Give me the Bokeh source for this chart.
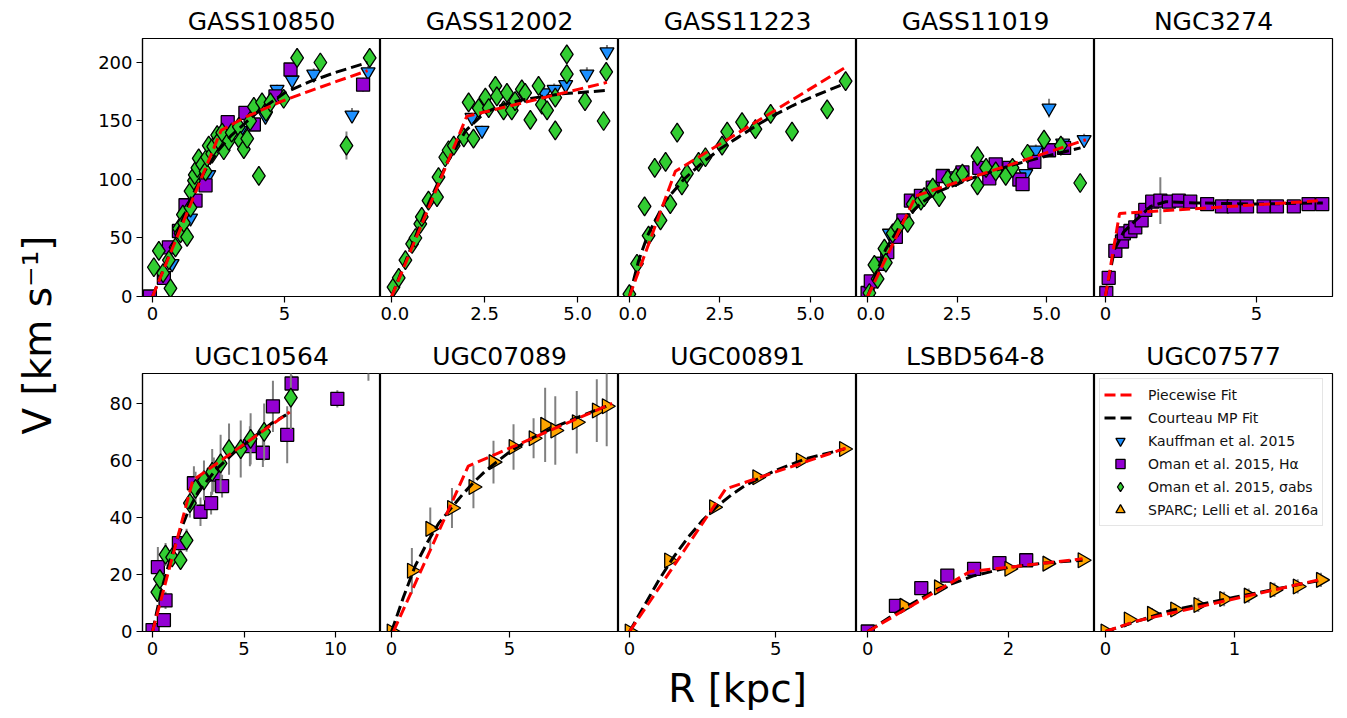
import numpy as np
from bokeh.plotting import figure
from bokeh.layouts import row, column
from bokeh.models import Range1d, FixedTicker, Legend, LegendItem
from bokeh.embed import file_html
from bokeh.resources import INLINE

FONT = "DejaVu Sans"
C_KAUFF = "#1E90FF"
C_HA = "#9400D3"
C_SIG = "#32CD32"
C_SPARC = "#FFA500"

# ---------------- data (R in kpc, V in km/s, e = error) ----------------
# GASS10850
g10850_kauff_r = [0.74, 1.44, 2.13, 3.33, 4.28, 4.72, 5.29, 6.11, 7.56, 8.17]
g10850_kauff_v = [28, 67, 104, 142, 154, 177, 185, 190, 155, 192]
g10850_kauff_e = [3, 3, 4, 4, 5, 4, 5, 5, 6, 5]
g10850_ha_r = [-0.1, 0.43, 0.62, 1.0, 1.25, 1.63, 2.01, 2.85, 3.52, 3.84, 4.66, 5.23, 7.98]
g10850_ha_v = [0, 16, 42, 56, 78, 82, 95, 149, 157, 147, 171, 194, 181]
g10850_ha_e = [2, 3, 3, 3, 4, 4, 4, 4, 4, 4, 5, 5, 6]
g10850_sig_r = [0.05, 0.24, 0.40, 0.62, 0.68, 0.87, 1.0, 1.06, 1.15, 1.19, 1.31, 1.44, 1.44, 1.57, 1.60,
                1.70, 1.75, 1.88, 2.01, 2.07, 2.13, 2.26, 2.30, 2.45, 2.51, 2.64, 2.70, 2.89, 3.00, 3.27,
                3.33, 3.46, 3.59, 3.70, 3.84, 4.03, 4.15, 4.30, 4.47, 4.97, 5.48, 6.36, 7.35, 8.23]
g10850_sig_v = [25, 39, 20, 31, 7, 42, 58, 54, 70, 63, 51, 76, 90, 99, 104,
                110, 118, 113, 107, 119, 129, 122, 128, 138, 133, 140, 125, 133, 140, 145,
                133, 126, 135, 150, 162, 103, 166, 158, 166, 169, 204, 200, 129, 204]
g10850_sig_e = [4, 4, 3, 4, 3, 4, 4, 3, 4, 3, 4, 4, 5, 4, 4,
                4, 5, 4, 4, 4, 5, 4, 4, 5, 4, 5, 4, 4, 5, 5,
                4, 4, 5, 5, 5, 6, 5, 5, 5, 5, 6, 6, 12, 6]
g10850_pw_r = [0.0, 2.6, 3.5, 4.8, 6.0, 7.0, 8.15]
g10850_pw_v = [0, 142, 153, 166, 176, 184, 193]
g10850_cm_r = [0.0, 0.5, 1.0, 1.5, 2.0, 2.5, 3.0, 4.0, 5.0, 6.0, 7.0, 8.15]
g10850_cm_v = [0, 28, 58, 86, 108, 125, 138, 158, 174, 184, 192, 200]

# GASS12002
g12002_kauff_r = [2.16, 2.43, 4.10, 4.37, 4.68, 5.25, 5.79]
g12002_kauff_v = [153, 142, 174, 177, 181, 190, 209]
g12002_kauff_e = [4, 4, 5, 5, 5, 6, 6]
g12002_sig_r = [0.05, 0.19, 0.37, 0.55, 0.64, 0.77, 0.81, 0.99, 1.22, 1.26,
                1.44, 1.53, 1.67, 1.94, 2.07, 2.20, 2.34, 2.52, 2.61, 2.79,
                2.83, 3.01, 3.10, 3.23, 3.32, 3.50, 3.59, 3.73, 3.95, 4.04,
                4.18, 4.40, 4.40, 4.71, 4.71, 5.20, 5.70, 5.77]
g12002_sig_v = [8, 16, 31, 45, 50, 62, 68, 82, 85, 102,
                119, 125, 129, 136, 166, 135, 161, 170, 161, 180,
                171, 159, 174, 159, 167, 177, 174, 151, 180, 164,
                159, 142, 170, 207, 190, 167, 150, 192]
g12002_sig_e = [2, 2, 3, 3, 3, 3, 3, 3, 4, 4,
                4, 4, 4, 4, 5, 4, 5, 5, 5, 5,
                5, 5, 5, 5, 5, 5, 5, 5, 5, 5,
                5, 6, 5, 6, 6, 6, 6, 6]
g12002_pw_r = [0.0, 2.02, 5.79]
g12002_pw_v = [0, 154, 183]
g12002_cm_r = [0.0, 0.5, 1.0, 1.5, 2.0, 2.5, 3.0, 3.5, 4.5, 5.75]
g12002_cm_v = [0, 40, 80, 115, 142, 157, 164, 168, 173, 176]

# GASS11223
g11223_sig_r = [0.0, 0.21, 0.42, 0.53, 0.70, 0.86, 1.00, 1.13, 1.32, 1.45,
                1.59, 1.91, 2.10, 2.56, 2.70, 3.11, 3.48, 3.90, 4.49, 5.46, 5.97]
g11223_sig_v = [2, 28, 77, 52, 110, 65, 115, 79, 140, 95,
                105, 115, 119, 129, 141, 149, 143, 156, 141, 160, 184]
g11223_sig_e = [2, 3, 4, 3, 4, 3, 4, 3, 4, 3,
                3, 3, 3, 3, 3, 3, 3, 4, 4, 4, 4]
g11223_pw_r = [0.0, 1.27, 5.97]
g11223_pw_v = [0, 107, 196]
g11223_cm_r = [0.0, 0.25, 0.5, 1.0, 1.5, 2.0, 2.5, 3.0, 3.5, 4.0, 4.5, 5.0, 5.95]
g11223_cm_v = [0, 30, 52, 82, 100, 114, 126, 136, 146, 155, 163, 170, 182]

# GASS11019
g11019_kauff_r = [0.61, 3.50, 4.42, 4.70, 5.07, 5.45, 6.05]
g11019_kauff_v = [54, 110, 105, 125, 161, 131, 134]
g11019_kauff_e = [3, 4, 4, 5, 8, 5, 5]
g11019_ha_r = [0.0, 0.09, 0.35, 0.55, 0.79, 1.0, 1.21, 1.49, 1.82, 2.10, 2.37,
               2.65, 3.12, 3.40, 3.58, 3.96, 4.24, 4.33, 4.66, 5.07, 5.49]
g11019_ha_v = [3, 13, 28, 38, 51, 65, 82, 86, 93, 103, 101,
               106, 110, 101, 113, 110, 100, 96, 115, 125, 127]
g11019_ha_e = [2, 2, 2, 3, 3, 3, 3, 3, 3, 3, 3,
               3, 3, 3, 3, 3, 3, 3, 4, 4, 4]
g11019_sig_r = [0.05, 0.19, 0.28, 0.47, 0.51, 0.70, 0.84, 1.12, 1.26, 1.49,
                1.58, 1.82, 2.00, 2.24, 2.47, 2.65, 3.07, 3.07, 3.31, 3.58,
                3.86, 4.05, 4.47, 4.93, 5.40, 5.94]
g11019_sig_v = [3, 27, 15, 41, 29, 54, 59, 63, 79, 82,
                85, 93, 85, 100, 102, 105, 120, 95, 110, 107,
                103, 110, 122, 134, 129, 97]
g11019_sig_e = [2, 2, 2, 3, 3, 3, 3, 3, 3, 3,
                3, 3, 3, 3, 3, 3, 4, 4, 3, 3,
                3, 3, 4, 4, 4, 4]
g11019_pw_r = [0.0, 1.35, 6.1]
g11019_pw_v = [0, 86, 134]
g11019_cm_r = [0.0, 0.5, 1.0, 1.5, 2.0, 3.0, 4.0, 5.0, 5.95]
g11019_cm_v = [0, 40, 65, 80, 90, 102, 112, 120, 127]

# NGC3274
n3274_ha_r = [0.03, 0.11, 0.33, 0.55, 0.61, 0.83, 0.99, 1.20, 1.32, 1.55, 1.82, 2.10,
              2.43, 2.81, 3.37, 3.86, 4.25, 4.69, 5.24, 5.68, 6.24, 6.73, 7.18]
n3274_ha_v = [3, 16, 39, 47, 54, 56, 59, 65, 74, 81, 82, 81,
              82, 81, 79, 77, 77, 77, 77, 77, 77, 79, 79]
n3274_ha_e = [1, 2, 2, 2, 2, 2, 2, 2, 2, 3, 20, 3,
              3, 2, 2, 2, 2, 2, 2, 2, 2, 2, 2]
n3274_pw_r = [0.0, 0.47, 7.2]
n3274_pw_v = [0, 71, 82]
n3274_cm_r = [0.0, 0.3, 0.6, 1.0, 1.5, 2.0, 3.0, 5.0, 7.2]
n3274_cm_v = [0, 40, 55, 65, 77, 81, 80, 79, 80]

# UGC10564
u10564_ha_r = [0.0, 0.29, 0.62, 0.71, 1.44, 2.26, 2.62, 3.20, 3.35, 3.80,
               5.32, 6.03, 6.58, 7.36, 7.60, 10.1, 11.8]
u10564_ha_v = [0.5, 22.6, 4, 10.9, 31, 52, 42, 45, 55, 51,
               65, 62.7, 79, 69, 87, 81.6, 97]
u10564_ha_e = [1, 7, 2, 3, 4, 6, 5, 4, 6, 4,
               7, 5, 9, 10, 3, 3, 9]
u10564_sig_r = [0.26, 0.40, 0.71, 1.07, 1.53, 1.86, 2.04, 2.35, 2.81, 3.26,
                3.72, 4.18, 4.82, 5.36, 6.10, 7.56]
u10564_sig_v = [13.8, 18.4, 27, 26, 25, 32, 45, 50, 53, 56,
                59, 64, 64, 67.6, 70, 82]
u10564_sig_e = [2, 3, 4, 3, 3, 4, 5, 6, 7, 8,
                10, 9, 10, 9, 10, 11]
u10564_pw_r = [0.0, 2.2, 7.5]
u10564_pw_v = [0, 53, 77]
u10564_cm_r = [0.0, 0.5, 1.0, 1.5, 2.0, 2.5, 3.0, 3.5, 4.5, 5.5, 6.5, 7.3]
u10564_cm_v = [0, 15, 26, 35, 43, 49, 53, 57, 63, 68, 73, 76]

# UGC07089
u07089_sparc_r = [0.0, 0.86, 1.64, 2.56, 3.47, 4.32, 5.17, 6.02, 6.51, 6.94, 7.85, 8.70, 9.12]
u07089_sparc_v = [0, 21.3, 36, 43.3, 50.7, 59.4, 64.7, 67.8, 72.5, 70.5, 73.4, 77.5, 79]
u07089_sparc_e = [1, 8, 7.5, 7, 7.5, 7.5, 8, 7, 13, 12, 11, 11, 14]
u07089_pw_r = [0.08, 3.25, 9.35]
u07089_pw_v = [0, 58, 80]
u07089_cm_r = [0.0, 0.5, 1.0, 1.5, 2.0, 2.5, 3.0, 3.5, 4.0, 5.0, 6.0, 7.0, 8.0, 9.1]
u07089_cm_v = [0, 12, 23, 31, 38, 43, 48, 52.5, 56.5, 63, 68, 72, 75.5, 79]

# UGC00891
u00891_sparc_r = [0.0, 1.35, 2.89, 4.37, 5.86, 7.34]
u00891_sparc_v = [0, 24.9, 43.6, 54.1, 60, 64]
u00891_sparc_e = [0.5, 1.5, 1.5, 1.5, 1, 1]
u00891_pw_r = [0.0, 3.29, 7.4]
u00891_pw_v = [0, 50, 64.3]
u00891_cm_r = [0.0, 0.5, 1.0, 1.5, 2.0, 2.5, 3.0, 3.5, 4.0, 5.0, 6.0, 7.35]
u00891_cm_v = [0, 9, 18, 26, 33, 39, 44, 48, 51.5, 56.5, 60.5, 64]

# LSBD564-8
lsbd_ha_r = [0.0, 0.40, 0.76, 1.13, 1.51, 1.87, 2.25]
lsbd_ha_v = [0, 9, 15.2, 19.6, 22, 24, 25]
lsbd_ha_e = [0.5, 1, 1, 1, 1, 1, 1]
lsbd_sparc_r = [0.52, 1.01, 2.01, 2.55, 3.05]
lsbd_sparc_v = [9, 15.5, 22, 23.8, 25]
lsbd_sparc_e = [1, 1, 1, 1, 1]
lsbd_pw_r = [0.0, 1.45, 3.05]
lsbd_pw_v = [0, 21, 25.5]
lsbd_cm_r = [0.0, 0.5, 1.0, 1.5, 2.0, 2.5, 3.05]
lsbd_cm_v = [0, 8, 15, 19.5, 22.5, 24, 25]

# UGC07577
u07577_sparc_r = [0.0, 0.18, 0.36, 0.54, 0.72, 0.92, 1.11, 1.31, 1.49, 1.67]
u07577_sparc_v = [0, 4.2, 6.2, 7.7, 9.3, 11.4, 12.6, 14.6, 15.8, 18.1]
u07577_sparc_e = [0.3, 1.5, 2, 2, 2.5, 2.5, 2.5, 2.5, 2.5, 2.5]
u07577_pw_r = [0.0, 0.25, 1.67]
u07577_pw_v = [0, 3.8, 18.3]
u07577_cm_r = [0.0, 0.5, 1.0, 1.67]
u07577_cm_v = [0, 7.3, 12, 18]

# axes
names_top = ["GASS10850", "GASS12002", "GASS11223", "GASS11019", "NGC3274"]
names_bot = ["UGC10564", "UGC07089", "UGC00891", "LSBD564-8", "UGC07577"]
xlims = [(-0.38, 8.64), (-0.30, 6.10), (-0.30, 6.27), (-0.31, 6.34), (-0.36, 7.52),
         (-0.55, 12.46), (-0.47, 9.62), (-0.38, 7.77), (-0.16, 3.22), (-0.085, 1.76)]
xticks = [[0, 5], [0, 2.5, 5], [0, 2.5, 5], [0, 2.5, 5], [0, 5],
          [0, 5, 10], [0, 5], [0, 5], [0, 2], [0, 1]]
xtick_labels = [["0", "5"], ["0.0", "2.5", "5.0"], ["0.0", "2.5", "5.0"], ["0.0", "2.5", "5.0"], ["0", "5"],
                ["0", "5", "10"], ["0", "5"], ["0", "5"], ["0", "2"], ["0", "1"]]
ylim_top = (0, 220.5)
ylim_bot = (0, 90.5)
yticks_top = [0, 50, 100, 150, 200]
yticks_bot = [0, 20, 40, 60, 80]

STYLE = {
    "kauff": dict(marker="inverted_triangle", size=14, fill_color=C_KAUFF, angle=0.0),
    "ha": dict(marker="square", size=13, fill_color=C_HA, angle=0.0),
    "sig": dict(marker="diamond", size=19, fill_color=C_SIG, angle=0.0),
    "sparc": dict(marker="triangle", size=15, fill_color=C_SPARC, angle=-np.pi / 2),
}
LABELS = {
    "kauff": "Kauffman et al. 2015",
    "ha": "Oman et al. 2015, Hα",
    "sig": "Oman et al. 2015, σabs",
    "sparc": "SPARC; Lelli et al. 2016a",
}

panels = [
    dict(data=[("kauff", g10850_kauff_r, g10850_kauff_v, g10850_kauff_e),
               ("ha", g10850_ha_r, g10850_ha_v, g10850_ha_e),
               ("sig", g10850_sig_r, g10850_sig_v, g10850_sig_e)],
         pw=(g10850_pw_r, g10850_pw_v), cm=(g10850_cm_r, g10850_cm_v)),
    dict(data=[("kauff", g12002_kauff_r, g12002_kauff_v, g12002_kauff_e),
               ("sig", g12002_sig_r, g12002_sig_v, g12002_sig_e)],
         pw=(g12002_pw_r, g12002_pw_v), cm=(g12002_cm_r, g12002_cm_v)),
    dict(data=[("sig", g11223_sig_r, g11223_sig_v, g11223_sig_e)],
         pw=(g11223_pw_r, g11223_pw_v), cm=(g11223_cm_r, g11223_cm_v)),
    dict(data=[("kauff", g11019_kauff_r, g11019_kauff_v, g11019_kauff_e),
               ("ha", g11019_ha_r, g11019_ha_v, g11019_ha_e),
               ("sig", g11019_sig_r, g11019_sig_v, g11019_sig_e)],
         pw=(g11019_pw_r, g11019_pw_v), cm=(g11019_cm_r, g11019_cm_v)),
    dict(data=[("ha", n3274_ha_r, n3274_ha_v, n3274_ha_e)],
         pw=(n3274_pw_r, n3274_pw_v), cm=(n3274_cm_r, n3274_cm_v)),
    dict(data=[("ha", u10564_ha_r, u10564_ha_v, u10564_ha_e),
               ("sig", u10564_sig_r, u10564_sig_v, u10564_sig_e)],
         pw=(u10564_pw_r, u10564_pw_v), cm=(u10564_cm_r, u10564_cm_v)),
    dict(data=[("sparc", u07089_sparc_r, u07089_sparc_v, u07089_sparc_e)],
         pw=(u07089_pw_r, u07089_pw_v), cm=(u07089_cm_r, u07089_cm_v)),
    dict(data=[("sparc", u00891_sparc_r, u00891_sparc_v, u00891_sparc_e)],
         pw=(u00891_pw_r, u00891_pw_v), cm=(u00891_cm_r, u00891_cm_v)),
    dict(data=[("ha", lsbd_ha_r, lsbd_ha_v, lsbd_ha_e),
               ("sparc", lsbd_sparc_r, lsbd_sparc_v, lsbd_sparc_e)],
         pw=(lsbd_pw_r, lsbd_pw_v), cm=(lsbd_cm_r, lsbd_cm_v)),
    dict(data=[("sparc", u07577_sparc_r, u07577_sparc_v, u07577_sparc_e)],
         pw=(u07577_pw_r, u07577_pw_v), cm=(u07577_cm_r, u07577_cm_v)),
]

FRAME_W = 238
FRAME_H = 258
LEFT_B = 72
RIGHT_B = 12
TOP_T, TOP_B = 38, 35
BOT_T, BOT_B = 42, 86


def style_axis(ax):
    ax.axis_line_color = "black"
    ax.axis_line_width = 1.2
    ax.major_tick_line_color = "black"
    ax.major_tick_line_width = 1.2
    ax.major_tick_out = 6
    ax.major_tick_in = 0
    ax.minor_tick_line_color = None
    ax.major_label_text_font = FONT
    ax.major_label_text_font_size = "18px"
    ax.major_label_text_color = "black"
    ax.major_label_standoff = 4


def make_panel(idx):
    rowi, col = divmod(idx, 5)
    pan = panels[idx]
    left = col == 0
    right = col == 4
    top = rowi == 0
    name = (names_top if top else names_bot)[col]
    ylim = ylim_top if top else ylim_bot
    p = figure(
        width=FRAME_W + (LEFT_B if left else 0) + (RIGHT_B if right else 0),
        height=(TOP_T + FRAME_H + TOP_B) if top else (BOT_T + FRAME_H + BOT_B),
        x_range=Range1d(*xlims[idx]), y_range=Range1d(*ylim),
        y_axis_location="left" if left else None,
        title=name, toolbar_location=None, output_backend="svg",
        min_border_left=LEFT_B if left else 0,
        min_border_right=RIGHT_B if right else 0,
        min_border_top=TOP_T if top else BOT_T,
        min_border_bottom=TOP_B if top else BOT_B,
    )
    p.title.text_font = FONT
    p.title.text_font_size = "25px"
    p.title.text_font_style = "normal"
    p.title.align = "center"
    p.title.text_color = "black"
    p.title.standoff = 5
    p.xgrid.visible = False
    p.ygrid.visible = False
    p.outline_line_color = "black"
    p.outline_line_width = 1.2
    p.background_fill_color = "white"
    p.border_fill_color = "white"

    style_axis(p.xaxis[0])
    p.xaxis[0].ticker = FixedTicker(ticks=xticks[idx])
    p.xaxis[0].major_label_overrides = {t: lab for t, lab in zip(xticks[idx], xtick_labels[idx])}
    if left:
        style_axis(p.yaxis[0])
        p.yaxis[0].ticker = FixedTicker(ticks=yticks_top if top else yticks_bot)

    rends = {}
    for key, r, v, e in pan["data"]:
        r = np.array(r, dtype=float)
        v = np.array(v, dtype=float)
        e = np.array(e, dtype=float)
        p.segment(x0=r, y0=v - e, x1=r, y1=v + e, line_color="#808080", line_width=2)
        st = STYLE[key]
        rends[key] = p.scatter(x=r, y=v, marker=st["marker"], size=st["size"], angle=st["angle"],
                               fill_color=st["fill_color"], line_color="black", line_width=1.3)
    cm = p.line(x=pan["cm"][0], y=pan["cm"][1], line_color="black", line_width=3, line_dash="11 5")
    pw = p.line(x=pan["pw"][0], y=pan["pw"][1], line_color="#FF0000", line_width=3, line_dash="11 5")

    if idx == 7:
        ax = p.xaxis[0]
        ax.axis_label = "R [kpc]"
        ax.axis_label_text_font = FONT
        ax.axis_label_text_font_size = "39px"
        ax.axis_label_text_font_style = "normal"
        ax.axis_label_text_color = "black"
        ax.axis_label_standoff = 8

    if idx == 9:
        # legend-only renderers (one NaN point each, not drawn in the frame)
        leg_rends = {}
        for key in ["kauff", "ha", "sig", "sparc"]:
            st = STYLE[key]
            leg_rends[key] = p.scatter(x=[np.nan], y=[np.nan], marker=st["marker"], size=st["size"],
                                       fill_color=st["fill_color"], line_color="black", line_width=1.3)
        items = [LegendItem(label="Piecewise Fit", renderers=[pw]),
                 LegendItem(label="Courteau MP Fit", renderers=[cm])]
        for key in ["kauff", "ha", "sig", "sparc"]:
            items.append(LegendItem(label=LABELS[key], renderers=[leg_rends[key]]))
        leg = Legend(items=items, location="top_left")
        leg.label_text_font = FONT
        leg.label_text_font_size = "14px"
        leg.label_text_color = "#111111"
        leg.glyph_width = 32
        leg.glyph_height = 23
        leg.label_height = 23
        leg.label_standoff = 12
        leg.spacing = 0
        leg.padding = 4
        leg.margin = 5
        leg.border_line_color = "#cccccc"
        leg.border_line_width = 1
        leg.background_fill_alpha = 0.85
        p.add_layout(leg)
    return p


figs = [make_panel(i) for i in range(10)]

yfig = figure(width=70, height=TOP_T + FRAME_H + TOP_B + BOT_T + FRAME_H + BOT_B,
              title="V [km s⁻¹]", title_location="left",
              x_axis_location=None, y_axis_location=None,
              toolbar_location=None, output_backend="svg",
              min_border_left=64, min_border_right=0, min_border_top=TOP_T, min_border_bottom=BOT_B)
yfig.outline_line_color = None
yfig.xgrid.visible = False
yfig.ygrid.visible = False
yfig.title.text_font = FONT
yfig.title.text_font_size = "39px"
yfig.title.text_font_style = "normal"
yfig.title.align = "center"
yfig.title.text_color = "black"

layout = row(yfig, column(row(*figs[:5]), row(*figs[5:])))

open("out.html", "w").write(file_html(layout, INLINE))
